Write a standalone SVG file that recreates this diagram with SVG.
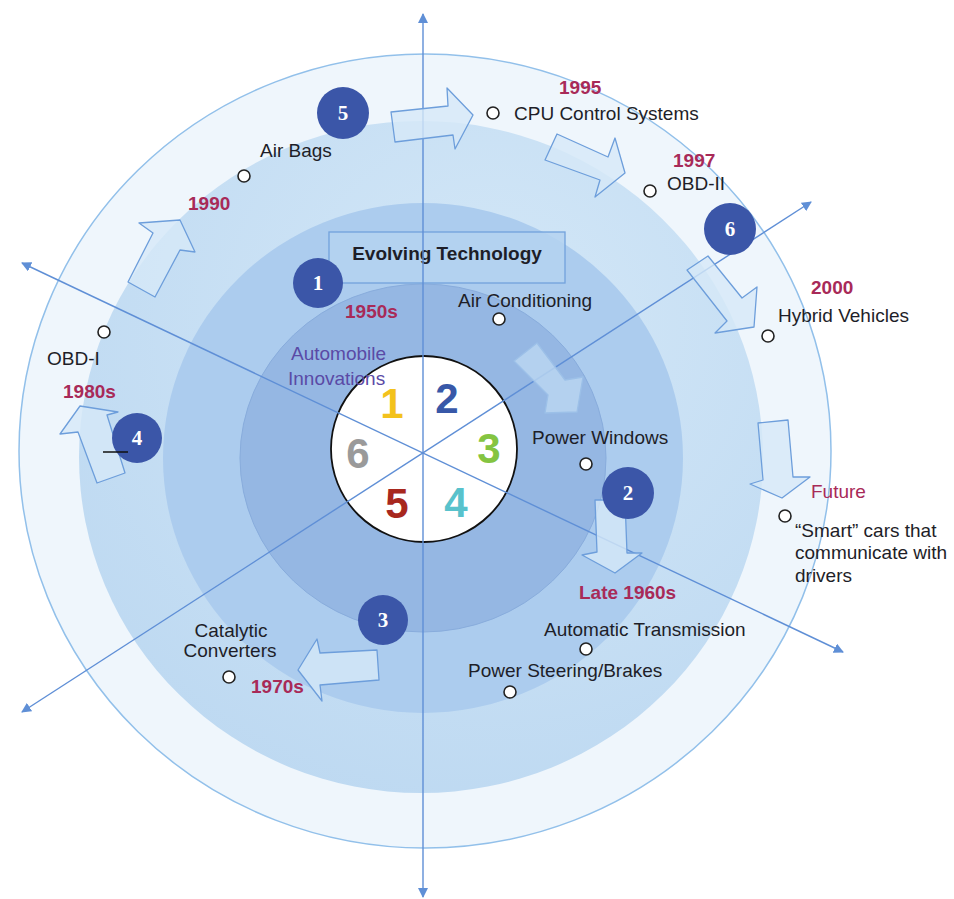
<svg xmlns="http://www.w3.org/2000/svg" width="954" height="899" viewBox="0 0 954 899">
<defs>
<marker id="ah" viewBox="0 0 10 10" refX="9" refY="5" markerWidth="10" markerHeight="10" markerUnits="userSpaceOnUse" orient="auto-start-reverse">
<path d="M0,0 L10,5 L0,10 z" fill="#5f8fd6"/>
</marker>
<radialGradient id="g2" cx="0.6" cy="0.3" r="0.8">
<stop offset="0" stop-color="#d3e7f7"/>
<stop offset="1" stop-color="#bcd8f1"/>
</radialGradient>
<style>
.ax{stroke:#5f8fd6;stroke-width:1.4;fill:none}
.blk{fill:#d6e8f8;fill-opacity:0.8;stroke:#6d9edb;stroke-width:1.3;stroke-linejoin:round}
.num{fill:#3b56a8}
.nt{font-family:"Liberation Serif","Times New Roman",serif;font-weight:bold;font-size:21px;fill:#fff;text-anchor:middle}
.dot{fill:#fff;stroke:#222;stroke-width:1.6}
.lb{font-family:"Liberation Sans",Arial,sans-serif;font-size:19px;fill:#1e1e28}
.yr{font-family:"Liberation Sans",Arial,sans-serif;font-size:19px;font-weight:bold;fill:#a82a58}
.inn{font-family:"Liberation Sans",Arial,sans-serif;font-size:42px;font-weight:bold;text-anchor:middle}
</style>
</defs>
<rect width="954" height="899" fill="#fff"/>
<g id="rings">
<ellipse cx="425" cy="451" rx="406" ry="397" fill="#eff6fc" stroke="#92c0ea" stroke-width="1.5"/>
<ellipse cx="421" cy="457" rx="342" ry="336" fill="url(#g2)"/>
<ellipse cx="423" cy="458" rx="260" ry="255" fill="#acccee"/>
<ellipse cx="423" cy="458" rx="183" ry="174" fill="#95b7e3" stroke="#88acdc" stroke-width="1"/>
</g>
<g id="evolving-technology">
<rect x="329" y="232" width="236" height="51" fill="#b4d2f0" fill-opacity="0.85" stroke="#72a2dc" stroke-width="1.3"/>
<text x="447" y="260" class="lb" style="font-weight:bold" text-anchor="middle">Evolving Technology</text>
</g>
<g id="hub">
<circle cx="424" cy="449" r="93" fill="#fff" stroke="#111" stroke-width="1.8"/>
</g>
<g id="connectors">
<line class="ax" x1="423" y1="897" x2="423" y2="14" marker-start="url(#ah)" marker-end="url(#ah)"/>
<line class="ax" x1="22" y1="263" x2="843" y2="652" marker-start="url(#ah)" marker-end="url(#ah)"/>
<line class="ax" x1="22" y1="712" x2="811" y2="202" marker-start="url(#ah)" marker-end="url(#ah)"/>
</g>
<g id="hub-numbers">
<text class="inn" x="392" y="418" fill="#f3c21c">1</text>
<text class="inn" x="447" y="413" fill="#3858a8">2</text>
<text class="inn" x="489" y="463" fill="#84c441">3</text>
<text class="inn" x="456" y="517" fill="#58c2cc">4</text>
<text class="inn" x="397" y="518" fill="#a8281e">5</text>
<text class="inn" x="358" y="468" fill="#9a9a9a">6</text>
</g>
<g id="flow-arrows">
<polygon class="blk" points="391,112 448,106 447,88 473,115 455,149 453,135 395,142"/>
<polygon class="blk" points="557,134 608,157 615,138 625,173 595,197 600,180 545,160"/>
<polygon class="blk" points="687,270 708,256 742,298 757,287 754,327 715,333 727,321"/>
<polygon class="blk" points="758,423 788,420 793,477 810,477 782,498 750,484 763,480"/>
<polygon class="blk" points="514,361 537,343 565,380 583,377 577,412 545,413 548,395" style="stroke:#9cc0e8;fill:#bcd7f1"/>
<polygon class="blk" points="595,500 625,500 627,553 642,553 615,573 582,555 597,552"/>
<polygon class="blk" points="377,650 379,680 320,685 322,701 298,670 317,639 320,653"/>
<polygon class="blk" points="125,473 97,483 78,432 60,434 80,406 118,412 107,415"/>
<polygon class="blk" points="155,297 128,282 153,233 139,223 180,220 195,252 180,250"/>
</g>
<g id="step-1"><circle class="num" cx="318" cy="283" r="25"/><text class="nt" x="318" y="290">1</text></g>
<g id="step-2"><circle class="num" cx="628" cy="493" r="26"/><text class="nt" x="628" y="500">2</text></g>
<g id="step-3"><circle class="num" cx="383" cy="620" r="25"/><text class="nt" x="383" y="627">3</text></g>
<g id="step-4"><circle class="num" cx="137" cy="438" r="25"/><text class="nt" x="137" y="445">4</text><line x1="103" y1="452" x2="128" y2="452" stroke="#111" stroke-width="1.5"/></g>
<g id="step-5"><circle class="num" cx="343" cy="113" r="26"/><text class="nt" x="343" y="120">5</text></g>
<g id="step-6"><circle class="num" cx="730" cy="229" r="26"/><text class="nt" x="730" y="236">6</text></g>
<g id="title-label"><text class="lb" x="291" y="360" style="fill:#5a4aa6">Automobile</text><text class="lb" x="288" y="385" style="fill:#5a4aa6">Innovations</text></g>
<g id="era-1950s"><text class="yr" x="345" y="318">1950s</text></g>
<g id="air-conditioning"><circle class="dot" cx="499" cy="319" r="6"/><text class="lb" x="458" y="307">Air Conditioning</text></g>
<g id="power-windows"><circle class="dot" cx="586" cy="464" r="6"/><text class="lb" x="532" y="444">Power Windows</text></g>
<g id="era-late-1960s"><text class="yr" x="579" y="599">Late 1960s</text></g>
<g id="automatic-transmission"><circle class="dot" cx="586" cy="649" r="6"/><text class="lb" x="544" y="636">Automatic Transmission</text></g>
<g id="power-steering"><circle class="dot" cx="510" cy="692" r="6"/><text class="lb" x="468" y="677">Power Steering/Brakes</text></g>
<g id="catalytic-converters"><circle class="dot" cx="229" cy="677" r="6"/><text class="lb" x="231" y="637" text-anchor="middle">Catalytic</text><text class="lb" x="230" y="657" text-anchor="middle">Converters</text><text class="yr" x="251" y="693">1970s</text></g>
<g id="obd-1"><circle class="dot" cx="104" cy="332" r="6"/><text class="lb" x="47" y="365">OBD-I</text><text class="yr" x="63" y="398">1980s</text></g>
<g id="air-bags"><circle class="dot" cx="244" cy="176" r="6"/><text class="lb" x="260" y="157">Air Bags</text><text class="yr" x="188" y="210">1990</text></g>
<g id="cpu-control"><circle class="dot" cx="493" cy="113" r="6"/><text class="yr" x="559" y="94">1995</text><text class="lb" x="514" y="120">CPU Control Systems</text></g>
<g id="obd-2"><circle class="dot" cx="650" cy="191" r="6"/><text class="yr" x="673" y="167">1997</text><text class="lb" x="667" y="190">OBD-II</text></g>
<g id="hybrid"><circle class="dot" cx="768" cy="336" r="6"/><text class="yr" x="811" y="294">2000</text><text class="lb" x="778" y="322">Hybrid Vehicles</text></g>
<g id="future"><circle class="dot" cx="785" cy="516" r="6"/><text class="lb" x="811" y="498" style="fill:#a82a58">Future</text><text class="lb" x="795" y="537">“Smart” cars that</text><text class="lb" x="795" y="559">communicate with</text><text class="lb" x="795" y="582">drivers</text></g>
</svg>
